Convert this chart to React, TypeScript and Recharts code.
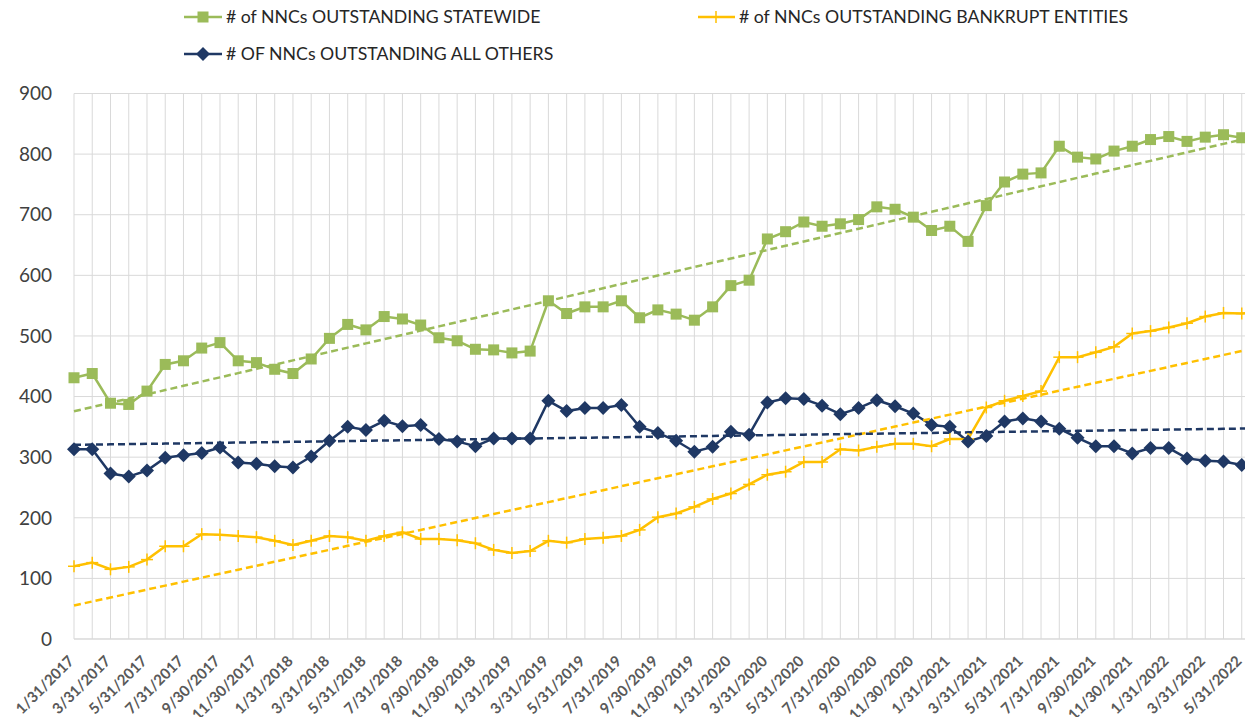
import React from 'react';
import { LineChart, Line, XAxis, YAxis, CartesianGrid } from 'recharts';

const dates = [
  '1/31/2017', '2/28/2017', '3/31/2017', '4/30/2017', '5/31/2017', '6/30/2017',
  '7/31/2017', '8/31/2017', '9/30/2017', '10/31/2017', '11/30/2017', '12/31/2017',
  '1/31/2018', '2/28/2018', '3/31/2018', '4/30/2018', '5/31/2018', '6/30/2018',
  '7/31/2018', '8/31/2018', '9/30/2018', '10/31/2018', '11/30/2018', '12/31/2018',
  '1/31/2019', '2/28/2019', '3/31/2019', '4/30/2019', '5/31/2019', '6/30/2019',
  '7/31/2019', '8/31/2019', '9/30/2019', '10/31/2019', '11/30/2019', '12/31/2019',
  '1/31/2020', '2/29/2020', '3/31/2020', '4/30/2020', '5/31/2020', '6/30/2020',
  '7/31/2020', '8/31/2020', '9/30/2020', '10/31/2020', '11/30/2020', '12/31/2020',
  '1/31/2021', '2/28/2021', '3/31/2021', '4/30/2021', '5/31/2021', '6/30/2021',
  '7/31/2021', '8/31/2021', '9/30/2021', '10/31/2021', '11/30/2021', '12/31/2021',
  '1/31/2022', '2/28/2022', '3/31/2022', '4/30/2022', '5/31/2022', '6/30/2022',
];

const statewide = [
  431, 438, 389, 387, 409, 453, 459, 480, 489, 459, 456, 445,
  438, 462, 496, 519, 510, 532, 528, 518, 497, 492, 478, 477,
  472, 475, 558, 537, 548, 548, 558, 530, 543, 536, 526, 548,
  583, 592, 660, 672, 688, 681, 685, 692, 713, 709, 696, 674,
  681, 656, 715, 754, 767, 769, 813, 795, 792, 805, 813, 824,
  829, 821, 828, 832, 827, 830,
];

const bankrupt = [
  120, 126, 115, 119, 131, 153, 153, 173, 172, 170, 168, 162,
  155, 162, 170, 168, 162, 170, 176, 165, 165, 163, 158, 147,
  142, 145, 162, 159, 165, 167, 170, 180, 201, 207, 218, 231,
  240, 255, 271, 276, 292, 292, 313, 311, 317, 322, 322, 318,
  330, 330, 382, 393, 401, 409, 465, 465, 473, 482, 504, 508,
  514, 521, 532, 538, 537, 539,
];

const allOthers = [
  313, 313, 273, 268, 278, 299, 303, 307, 316, 291, 289, 285,
  283, 301, 327, 350, 345, 360, 351, 353, 330, 326, 318, 331,
  331, 331, 393, 376, 381, 381, 386, 350, 340, 327, 309, 317,
  342, 337, 390, 397, 396, 385, 371, 381, 394, 384, 372, 353,
  350, 326, 335, 359, 364, 359, 347, 332, 318, 318, 306, 315,
  315, 298, 294, 293, 287, 292,
];

const yTicks = [0, 100, 200, 300, 400, 500, 600, 700, 800, 900];

const GREEN = '#9BBB59';
const GOLD = '#FFC000';
const NAVY = '#1F3864';
const FONT = 'Lato, "Open Sans", sans-serif';

// least squares fit, same as an excel linear trendline
function linearFit(values: number[]) {
  const n = values.length;
  const mx = (n - 1) / 2;
  const my = values.reduce((s, v) => s + v, 0) / n;
  let num = 0;
  let den = 0;
  values.forEach((v, i) => {
    num += (i - mx) * (v - my);
    den += (i - mx) * (i - mx);
  });
  const slope = num / den;
  return (i: number) => my + slope * (i - mx);
}

const fitState = linearFit(statewide);
const fitBankrupt = linearFit(bankrupt);
const fitOthers = linearFit(allOthers);

const data = dates.map((date, i) => ({
  date,
  statewide: statewide[i],
  bankrupt: bankrupt[i],
  allOthers: allOthers[i],
  trendState: fitState(i),
  trendBankrupt: fitBankrupt(i),
  trendOthers: fitOthers(i),
}));

const SquareDot = (props: any) => {
  const { cx, cy } = props;
  if (cx == null || cy == null) return <g />;
  return <rect x={cx - 5.5} y={cy - 5.5} width={11} height={11} fill={GREEN} />;
};

const DiamondDot = (props: any) => {
  const { cx, cy } = props;
  if (cx == null || cy == null) return <g />;
  const r = 7;
  return (
    <polygon
      points={`${cx},${cy - r} ${cx + r},${cy} ${cx},${cy + r} ${cx - r},${cy}`}
      fill={NAVY}
    />
  );
};

const PlusDot = (props: any) => {
  const { cx, cy } = props;
  if (cx == null || cy == null) return <g />;
  return (
    <g stroke={GOLD} strokeWidth={1.5}>
      <line x1={cx - 6} y1={cy} x2={cx + 6} y2={cy} />
      <line x1={cx} y1={cy - 6} x2={cx} y2={cy + 6} />
    </g>
  );
};

const DateTick = (props: any) => {
  const { x, y, payload } = props;
  const idx = payload?.index ?? props.index;
  if (idx % 2 !== 0) return <g />;
  return (
    <text
      transform={`translate(${x + 1},${y + 23}) rotate(-45)`}
      textAnchor="end"
      fontFamily={FONT}
      fontSize={15}
      fontWeight="bold"
      fill="#595959"
    >
      {payload.value}
    </text>
  );
};

function LegendOverlay() {
  const textStyle = { fontFamily: FONT, fontSize: 17.7, fill: '#262626' };
  return (
    <svg
      width={1253}
      height={80}
      style={{ position: 'absolute', left: 0, top: 0, pointerEvents: 'none' }}
    >
      <line x1={184} y1={17} x2={222} y2={17} stroke={GREEN} strokeWidth={2.5} />
      <rect x={197.5} y={11.5} width={11} height={11} fill={GREEN} />
      <text x={226} y={23} {...textStyle}>
        # of NNCs OUTSTANDING STATEWIDE
      </text>

      <line x1={698} y1={17} x2={735} y2={17} stroke={GOLD} strokeWidth={2.5} />
      <line x1={716} y1={11} x2={716} y2={23} stroke={GOLD} strokeWidth={1.5} />
      <text x={739} y={23} {...textStyle}>
        # of NNCs OUTSTANDING BANKRUPT ENTITIES
      </text>

      <line x1={184} y1={54} x2={222} y2={54} stroke={NAVY} strokeWidth={2.5} />
      <polygon points="203,47 210,54 203,61 196,54" fill={NAVY} />
      <text x={226} y={60} {...textStyle}>
        # OF NNCs OUTSTANDING ALL OTHERS
      </text>
    </svg>
  );
}

export default function App() {
  return (
    <div
      style={{
        position: 'relative',
        width: 1253,
        height: 725,
        margin: -8,
        overflow: 'hidden',
        background: '#ffffff',
      }}
    >
      <LineChart
        width={1265}
        height={725}
        data={data}
        margin={{ top: 93.5, right: 5, bottom: 6, left: 0 }}
      >
        <CartesianGrid stroke="#d9d9d9" strokeWidth={1} />
        <XAxis
          dataKey="date"
          interval={0}
          tickLine={false}
          tickSize={0}
          tickMargin={0}
          height={80}
          axisLine={{ stroke: '#d9d9d9' }}
          tick={<DateTick />}
        />
        <YAxis
          domain={[0, 900]}
          ticks={yTicks}
          width={74}
          tickLine={false}
          axisLine={false}
          tickSize={0}
          tickMargin={22}
          tick={{ fontFamily: FONT, fontSize: 19, fill: '#404040' }}
        />
        <Line
          dataKey="statewide"
          stroke={GREEN}
          strokeWidth={2.5}
          dot={<SquareDot />}
          isAnimationActive={false}
        />
        <Line
          dataKey="bankrupt"
          stroke={GOLD}
          strokeWidth={2.5}
          dot={<PlusDot />}
          isAnimationActive={false}
        />
        <Line
          dataKey="allOthers"
          stroke={NAVY}
          strokeWidth={2.5}
          dot={<DiamondDot />}
          isAnimationActive={false}
        />
        <Line
          dataKey="trendState"
          stroke={GREEN}
          strokeWidth={2.5}
          strokeDasharray="7 4"
          dot={false}
          isAnimationActive={false}
        />
        <Line
          dataKey="trendBankrupt"
          stroke={GOLD}
          strokeWidth={2.5}
          strokeDasharray="7 4"
          dot={false}
          isAnimationActive={false}
        />
        <Line
          dataKey="trendOthers"
          stroke={NAVY}
          strokeWidth={2.5}
          strokeDasharray="7 4"
          dot={false}
          isAnimationActive={false}
        />
      </LineChart>
      <LegendOverlay />
    </div>
  );
}
